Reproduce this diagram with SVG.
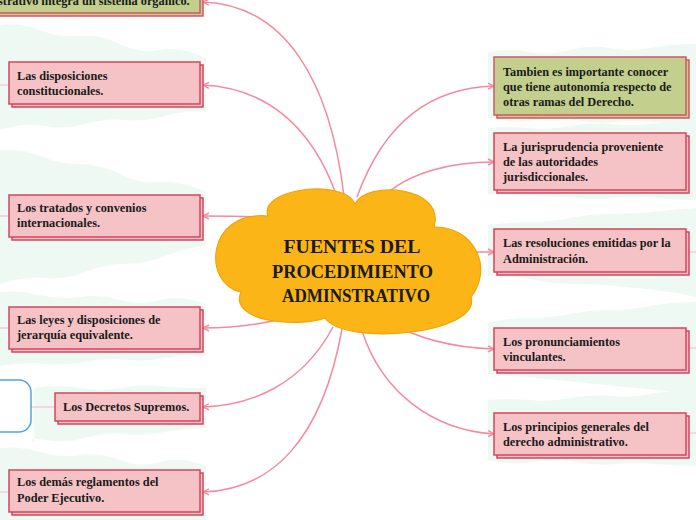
<svg xmlns="http://www.w3.org/2000/svg" width="696" height="520" viewBox="0 0 696 520">
<defs>
<style>
.band{fill:#eff9f4}
.box{fill:#f5c3c6;stroke:#d4455e;stroke-width:1.5}
.gbox{fill:#c3cf8c;stroke:#d4566a;stroke-width:1.5}
.t{font-family:"Liberation Serif",serif;font-weight:bold;font-size:12.3px;fill:#1a1a1a}
.ct{font-family:"Liberation Serif",serif;font-weight:bold;font-size:19px;fill:#1a1a1a;text-anchor:middle}
.c{fill:none;stroke:#f28b9e;stroke-width:1.5}
.f{fill:none;stroke:#f7c3cc;stroke-width:1.2}
</style>
<marker id="ar" viewBox="0 0 8 8" refX="7" refY="4" markerWidth="8" markerHeight="8" markerUnits="userSpaceOnUse" orient="auto">
<path d="M1,1 L7,4 L1,7" fill="none" stroke="#f28b9e" stroke-width="1.4"/>
</marker>
</defs>
<rect width="696" height="520" fill="#ffffff"/>
<g id="bands">
<path class="band" d="M0,0 H206 V15 Q190,19 175,15 T145,15 T115,15 T85,15 T55,15 T25,15 T0,16 Z"/>
<path class="band" d="M0,25 Q20,22 40,30 T80,36 T120,44 T160,50 T206,58 V112 Q185,110 165,116 T125,120 T85,124 T45,126 T0,130 Z"/>
<path class="band" d="M0,150 Q20,148 40,156 T80,164 T120,174 T160,182 T206,192 V246 Q185,248 165,256 T125,264 T85,272 T45,278 T0,284 Z"/>
<path class="band" d="M0,292 Q20,290 40,295 T80,297 T120,300 T160,300 T206,304 V356 Q185,354 165,358 T125,360 T85,362 T45,364 T0,366 Z"/>
<path class="band" d="M34,388 Q60,384 80,388 T120,388 T160,386 T206,388 V428 Q185,428 165,432 T125,434 T85,438 T45,440 T34,442 Z"/>
<path class="band" d="M0,448 Q20,446 40,452 T80,455 T120,460 T160,462 T206,466 V520 H0 Z"/>
<path class="band" d="M488,52 Q510,48 530,52 T570,50 T610,48 T650,48 T696,44 V124 Q675,124 655,122 T615,122 T575,120 T535,120 T488,118 Z"/>
<path class="band" d="M488,128 Q510,126 530,128 T570,126 T610,124 T650,124 T696,120 V200 Q675,200 655,198 T615,198 T575,198 T535,196 T488,194 Z"/>
<path class="band" d="M488,225 Q510,222 530,222 T570,218 T610,214 T650,212 T696,208 V297 Q675,292 655,290 T615,286 T575,284 T535,280 T488,276 Z"/>
<path class="band" d="M488,322 Q510,318 530,318 T570,314 T610,310 T650,306 T696,302 V395 Q675,392 655,390 T615,386 T575,382 T535,378 T488,374 Z"/>
<path class="band" d="M488,400 Q510,398 530,400 T570,398 T610,396 T650,394 T696,392 V466 Q675,466 655,464 T615,464 T575,462 T535,462 T488,460 Z"/>
</g>
<g id="connectors">
<path class="f" d="M0,85 H9"/>
<path class="f" d="M0,216 H9"/>
<path class="f" d="M0,328 H9"/>
<path class="f" d="M0,492 H9"/>
<path class="f" d="M31,407 H55"/>
<path class="f" d="M689,252 H696"/>
<path class="f" d="M689,348 H696"/>
<path class="f" d="M689,433 H696"/>
<path class="c" marker-end="url(#ar)" d="M344,196 C330,80 285,5 203,2"/>
<path class="c" marker-end="url(#ar)" d="M337,197 C312,125 265,88 203,85"/>
<path class="c" marker-end="url(#ar)" d="M270,218 C245,216 222,216 203,216"/>
<path class="c" marker-end="url(#ar)" d="M292,316 C262,325 232,328 203,328"/>
<path class="c" marker-end="url(#ar)" d="M333,327 C302,385 252,405 203,407"/>
<path class="c" marker-end="url(#ar)" d="M342,329 C322,440 272,490 203,492"/>
<path class="c" marker-end="url(#ar)" d="M357,197 C385,120 432,88 494,86"/>
<path class="c" marker-end="url(#ar)" d="M384,196 C410,172 452,162 494,162"/>
<path class="c" marker-end="url(#ar)" d="M476,252 L494,252"/>
<path class="c" marker-end="url(#ar)" d="M386,321 C420,340 456,348 494,349"/>
<path class="c" marker-end="url(#ar)" d="M362,331 C382,392 432,430 494,434"/>
</g>
<g id="center">
<path d="M268,216 C258,188 345,178 355,204 C366,180 446,186 434,227 C474,226 494,268 471,297 C482,334 345,347 325,318 C298,328 228,322 241,292 C202,284 206,210 268,216 Z" fill="#fbb516" stroke="#f2a30a" stroke-width="1.2"/>
<text class="ct" x="352" y="253" textLength="137" lengthAdjust="spacingAndGlyphs">FUENTES DEL</text>
<text class="ct" x="352.5" y="278" textLength="161" lengthAdjust="spacingAndGlyphs">PROCEDIMIENTO</text>
<text class="ct" x="356" y="302" textLength="148" lengthAdjust="spacingAndGlyphs">ADMINSTRATIVO</text>
</g>
<g id="n-top">
<rect class="gbox" x="-17" y="-16" width="220" height="32"/>
<rect class="gbox" x="-20" y="-19" width="220" height="32"/>
<text class="t" x="-2" y="5">strativo integra un sistema orgánico.</text>
</g>
<g id="n-constitucionales">
<rect class="box" x="12" y="65" width="191" height="42"/>
<rect class="box" x="9" y="62" width="191" height="42"/>
<text class="t" x="17" y="80">Las disposiciones</text>
<text class="t" x="17" y="95">constitucionales.</text>
</g>
<g id="n-tratados">
<rect class="box" x="12" y="198" width="191" height="42"/>
<rect class="box" x="9" y="195" width="191" height="42"/>
<text class="t" x="17" y="212">Los tratados y convenios</text>
<text class="t" x="17" y="227">internacionales.</text>
</g>
<g id="n-leyes">
<rect class="box" x="12" y="310" width="191" height="42"/>
<rect class="box" x="9" y="307" width="191" height="42"/>
<text class="t" x="17" y="324">Las leyes y disposiciones de</text>
<text class="t" x="17" y="339">jerarquía equivalente.</text>
</g>
<g id="n-blue">
<rect x="-20" y="380" width="51" height="52" rx="12" fill="#ffffff" stroke="#4ea6e0" stroke-width="1.5"/>
</g>
<g id="n-decretos">
<rect class="box" x="58" y="396" width="145" height="28"/>
<rect class="box" x="55" y="393" width="145" height="28"/>
<text class="t" x="63" y="411">Los Decretos Supremos.</text>
</g>
<g id="n-reglamentos">
<rect class="box" x="12" y="473" width="191" height="42"/>
<rect class="box" x="9" y="470" width="191" height="42"/>
<text class="t" x="17" y="486">Los demás reglamentos del</text>
<text class="t" x="17" y="502">Poder Ejecutivo.</text>
</g>
<g id="n-autonomia">
<rect class="gbox" x="497" y="60" width="192" height="58"/>
<rect class="gbox" x="494" y="57" width="192" height="58"/>
<text class="t" x="503" y="76">Tambien es importante conocer</text>
<text class="t" x="503" y="91">que tiene autonomía respecto de</text>
<text class="t" x="503" y="106">otras ramas del Derecho.</text>
</g>
<g id="n-jurisprudencia">
<rect class="box" x="497" y="136" width="192" height="57"/>
<rect class="box" x="494" y="133" width="192" height="57"/>
<text class="t" x="503" y="151">La jurisprudencia proveniente</text>
<text class="t" x="503" y="166">de las autoridades</text>
<text class="t" x="503" y="181">jurisdiccionales.</text>
</g>
<g id="n-resoluciones">
<rect class="box" x="497" y="232" width="192" height="43"/>
<rect class="box" x="494" y="229" width="192" height="43"/>
<text class="t" x="503" y="247">Las resoluciones emitidas por la</text>
<text class="t" x="503" y="263">Administración.</text>
</g>
<g id="n-pronunciamientos">
<rect class="box" x="497" y="331" width="192" height="42"/>
<rect class="box" x="494" y="328" width="192" height="42"/>
<text class="t" x="503" y="346">Los pronunciamientos</text>
<text class="t" x="503" y="361">vinculantes.</text>
</g>
<g id="n-principios">
<rect class="box" x="497" y="416" width="192" height="42"/>
<rect class="box" x="494" y="413" width="192" height="42"/>
<text class="t" x="503" y="431">Los principios generales del</text>
<text class="t" x="503" y="446">derecho administrativo.</text>
</g>
</svg>
